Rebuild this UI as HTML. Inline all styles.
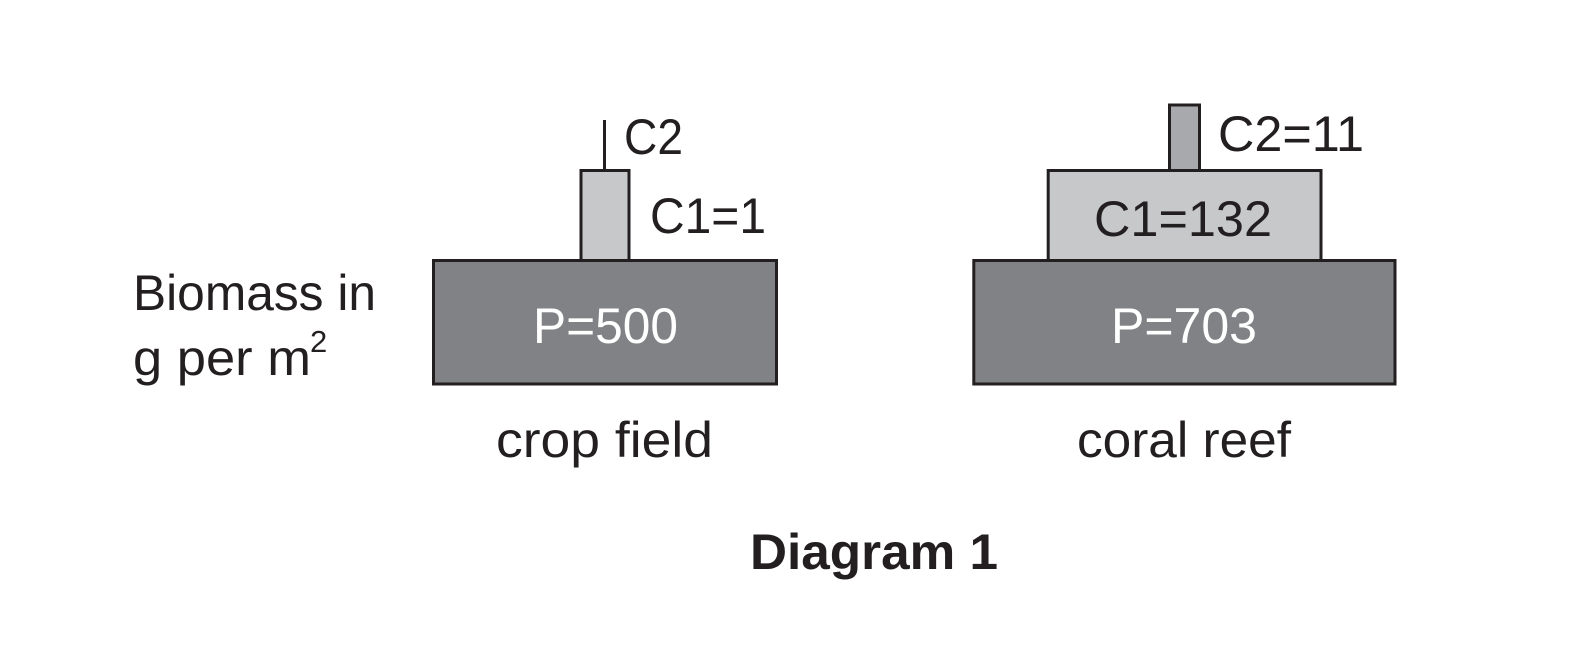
<!DOCTYPE html>
<html>
<head>
<meta charset="utf-8">
<style>
html,body{margin:0;padding:0;background:#fff;width:1592px;height:658px;overflow:hidden}
svg{display:block}
text{font-family:"Liberation Sans",sans-serif;font-size:50px;fill:#231f20}
</style>
</head>
<body>
<svg width="1592" height="658" viewBox="0 0 1592 658" xmlns="http://www.w3.org/2000/svg">
<rect width="1592" height="658" fill="#fff"/>
<g stroke="#231f20" stroke-width="3">
<line x1="604.500" y1="120" x2="604.500" y2="170" stroke-width="3"/>
<rect x="581" y="170.500" width="48" height="90" fill="#c7c8ca"/>
<rect x="433.500" y="260.500" width="343" height="123.500" fill="#808285"/>
<rect x="1169.500" y="105" width="30" height="66" fill="#a7a9ac"/>
<rect x="1048.200" y="170.500" width="272.800" height="90" fill="#c7c8ca"/>
<rect x="973.800" y="260.500" width="421.200" height="123.500" fill="#808285"/>
</g>
<text x="624" y="154" textLength="59" lengthAdjust="spacingAndGlyphs">C2</text>
<text x="650" y="233" textLength="116" lengthAdjust="spacingAndGlyphs">C1=1</text>
<text x="533" y="343" textLength="145" lengthAdjust="spacingAndGlyphs" style="fill:#fff">P=500</text>
<text x="1218" y="151" textLength="146" lengthAdjust="spacingAndGlyphs">C2=11</text>
<text x="1094" y="236" textLength="178" lengthAdjust="spacingAndGlyphs">C1=132</text>
<text x="1111" y="343" textLength="146" lengthAdjust="spacingAndGlyphs" style="fill:#fff">P=703</text>
<text x="133" y="310" textLength="243" lengthAdjust="spacingAndGlyphs">Biomass in</text>
<text x="133" y="375" textLength="178" lengthAdjust="spacingAndGlyphs">g per m</text>
<text x="310" y="352" style="font-size:31px">2</text>
<text x="496" y="457" textLength="217" lengthAdjust="spacingAndGlyphs">crop field</text>
<text x="1077" y="457" textLength="214" lengthAdjust="spacingAndGlyphs">coral reef</text>
<text x="750" y="569" textLength="248" lengthAdjust="spacingAndGlyphs" style="font-weight:bold">Diagram 1</text>
</svg>
</body>
</html>
